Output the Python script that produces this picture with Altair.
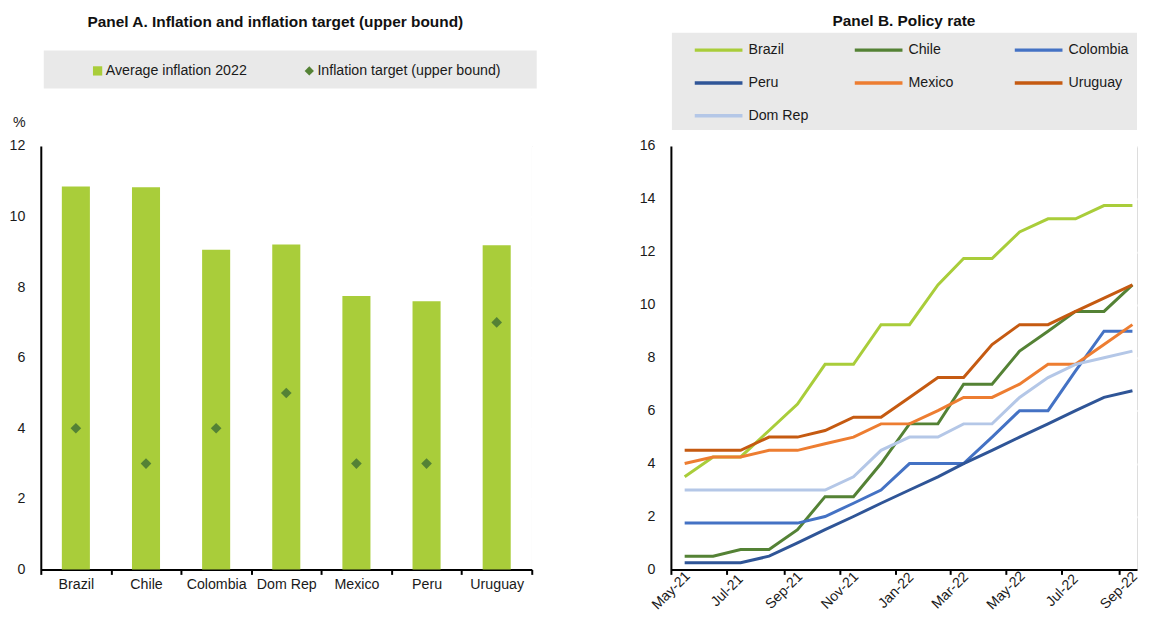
import altair as alt
import pandas as pd

FONT = "'Liberation Sans', Arial, sans-serif"
LBL = 14.3   # label font size
TTL = 15.5   # title font size

# ---------------- Panel A data ----------------
countries = ["Brazil", "Chile", "Colombia", "Dom Rep", "Mexico", "Peru", "Uruguay"]
avg_inflation_2022 = [10.85, 10.83, 9.06, 9.21, 7.75, 7.6, 9.19]
target_upper = [4, 3, 4, 5, 3, 3, 7]
series_a = ["Average inflation 2022", "Inflation target (upper bound)"]

# ---------------- Panel B data ----------------
months = ["2021-05-16", "2021-06-16", "2021-07-16", "2021-08-16", "2021-09-16",
          "2021-10-16", "2021-11-16", "2021-12-16", "2022-01-16", "2022-02-16",
          "2022-03-16", "2022-04-16", "2022-05-16", "2022-06-16", "2022-07-16",
          "2022-08-16", "2022-09-16"]
brazil = [3.5, 4.25, 4.25, 5.25, 6.25, 7.75, 7.75, 9.25, 9.25, 10.75, 11.75, 11.75, 12.75, 13.25, 13.25, 13.75, 13.75]
chile = [0.5, 0.5, 0.75, 0.75, 1.5, 2.75, 2.75, 4.0, 5.5, 5.5, 7.0, 7.0, 8.25, 9.0, 9.75, 9.75, 10.75]
colombia = [1.75, 1.75, 1.75, 1.75, 1.75, 2.0, 2.5, 3.0, 4.0, 4.0, 4.0, 5.0, 6.0, 6.0, 7.5, 9.0, 9.0]
peru = [0.25, 0.25, 0.25, 0.5, 1.0, 1.5, 2.0, 2.5, 3.0, 3.5, 4.0, 4.5, 5.0, 5.5, 6.0, 6.5, 6.75]
mexico = [4.0, 4.25, 4.25, 4.5, 4.5, 4.75, 5.0, 5.5, 5.5, 6.0, 6.5, 6.5, 7.0, 7.75, 7.75, 8.5, 9.25]
uruguay = [4.5, 4.5, 4.5, 5.0, 5.0, 5.25, 5.75, 5.75, 6.5, 7.25, 7.25, 8.5, 9.25, 9.25, 9.75, 10.25, 10.75]
dom_rep = [3.0, 3.0, 3.0, 3.0, 3.0, 3.0, 3.5, 4.5, 5.0, 5.0, 5.5, 5.5, 6.5, 7.25, 7.75, 8.0, 8.25]

series_b = ["Brazil", "Chile", "Colombia", "Peru", "Mexico", "Uruguay", "Dom Rep"]
colors_b = ["#a9cd3a", "#548235", "#4472c4", "#2f5597", "#ed7d31", "#c55a11", "#b4c7e7"]
values_b = [brazil, chile, colombia, peru, mexico, uruguay, dom_rep]

BAR_GREEN = "#a9cd3a"
DARK_GREEN = "#548235"
BG = "#e9e9e9"
TXT = "#1a1a1a"

df_a = pd.DataFrame({"country": countries, "avg": avg_inflation_2022,
                     "target": target_upper, "s_tgt": series_a[1]})
rows = []
for name, vals in zip(series_b, values_b):
    for m, v in zip(months, vals):
        rows.append({"date": m, "country": name, "rate": v})
df_b = pd.DataFrame(rows)
one = pd.DataFrame({"k": [0]})

W_A, H = 494, 426
W_B = 469

# ---------------- Panel A ----------------
x_a = alt.X("country:N", sort=countries, title=None,
            scale=alt.Scale(paddingInner=0, paddingOuter=0),
            axis=alt.Axis(labelAngle=0, tickBand="extent", grid=True, gridColor="white",
                          gridWidth=2, domainColor="black", domainWidth=2, tickColor="black",
                          tickWidth=2, tickSize=5, labelPadding=3, labelFontSize=LBL,
                          labelColor=TXT, labelFont=FONT))
y_a = alt.Y("avg:Q", title="%", scale=alt.Scale(domain=[0, 12]),
            axis=alt.Axis(values=[0, 2, 4, 6, 8, 10, 12], grid=True, gridColor="white",
                          gridWidth=2, domainColor="black", domainWidth=2, ticks=False,
                          labelPadding=16, labelFontSize=LBL, labelColor=TXT,
                          labelFont=FONT, titleAngle=0, titleX=-22, titleY=-24,
                          titleAlign="center", titleBaseline="middle", titleFontSize=LBL,
                          titleFontWeight="normal", titleFont=FONT, titleColor=TXT))

legend_bg_a = alt.Chart(one).mark_rect(color=BG).encode(
    x=alt.value(3), x2=alt.value(499), y=alt.value(-96), y2=alt.value(-58))

bars = alt.Chart(df_a).mark_bar(width=alt.RelativeBandSize(0.4), color=BAR_GREEN).encode(
    x=x_a, y=y_a)

legend_a = alt.Legend(orient="none", legendX=50, legendY=-83, direction="horizontal",
                      columns=2, columnPadding=55, title=None, labelFontSize=LBL,
                      labelFont=FONT, labelColor=TXT, symbolSize=87, labelOffset=1,
                      labelLimit=400, padding=0)
points = alt.Chart(df_a).mark_point(filled=True, size=115, opacity=1).encode(
    x=alt.X("country:N", sort=countries),
    y=alt.Y("target:Q"),
    color=alt.Color("s_tgt:N", scale=alt.Scale(domain=series_a, range=[BAR_GREEN, DARK_GREEN]),
                    legend=legend_a),
    shape=alt.Shape("s_tgt:N", scale=alt.Scale(domain=series_a, range=["square", "diamond"]),
                    legend=legend_a),
)

panel_a = alt.layer(legend_bg_a, bars, points).properties(
    width=W_A, height=H,
    title=alt.TitleParams("Panel A. Inflation and inflation target (upper bound)",
                          fontSize=TTL, font=FONT, fontWeight="bold", color="#111111",
                          offset=20, dx=-11, anchor="middle"))

# ---------------- Panel B ----------------
ticks_b = [alt.DateTime(year=y, month=m, date=1, utc=True)
           for y, m in [(2021, 5), (2021, 7), (2021, 9), (2021, 11), (2022, 1),
                        (2022, 3), (2022, 5), (2022, 7), (2022, 9)]]
x_b = alt.X("date:T", title=None,
            scale=alt.Scale(type="utc", domain=[alt.DateTime(year=2021, month=5, date=1, utc=True),
                                                alt.DateTime(year=2022, month=9, date=21, utc=True)]),
            axis=alt.Axis(values=ticks_b, format="%b-%y", labelAngle=-45, labelAlign="center",
                          labelBaseline="middle", labelPadding=16, grid=True, gridColor="white",
                          gridWidth=2, domainColor="black", domainWidth=2, tickColor="black",
                          tickWidth=2, tickSize=5, labelFontSize=LBL, labelFont=FONT,
                          labelColor=TXT, labelFlush=False, labelOverlap=False))
y_b = alt.Y("rate:Q", title=None, scale=alt.Scale(domain=[0, 16]),
            axis=alt.Axis(values=list(range(0, 17, 2)), grid=True, gridColor="white",
                          gridWidth=2, domainColor="black", domainWidth=2, ticks=False,
                          labelPadding=16, labelFontSize=LBL, labelFont=FONT,
                          labelColor=TXT))

legend_bg_b = alt.Chart(one).mark_rect(color=BG).encode(
    x=alt.value(1), x2=alt.value(469), y=alt.value(-114), y2=alt.value(-16))

legend_b = alt.Legend(orient="none", legendX=22, legendY=-105, direction="horizontal",
                      columns=3, columnPadding=44, rowPadding=16, gridAlign="all",
                      title=None, labelFontSize=LBL, labelFont=FONT, labelColor=TXT,
                      symbolType="stroke", symbolSize=2304, symbolStrokeWidth=3.5,
                      clipHeight=17, labelOffset=4, labelLimit=300, padding=0)
lines = alt.Chart(df_b).mark_line(strokeWidth=3).encode(
    x=x_b, y=y_b,
    color=alt.Color("country:N", scale=alt.Scale(domain=series_b, range=colors_b),
                    sort=series_b, legend=legend_b),
)

panel_b = alt.layer(legend_bg_b, lines).properties(
    width=W_B, height=H,
    title=alt.TitleParams("Panel B. Policy rate", fontSize=TTL, font=FONT, fontWeight="bold",
                          color="#111111", offset=3, anchor="middle"))

chart = alt.hconcat(panel_a, panel_b, spacing=101).properties(
    padding={"left": 0, "top": 4, "right": 0, "bottom": 0}
).configure_view(stroke=None, fill=BG).configure(font=FONT).resolve_scale(color="independent",
                                                                          shape="independent")

chart.save("out.html", embed_options={"renderer": "svg", "actions": False})
